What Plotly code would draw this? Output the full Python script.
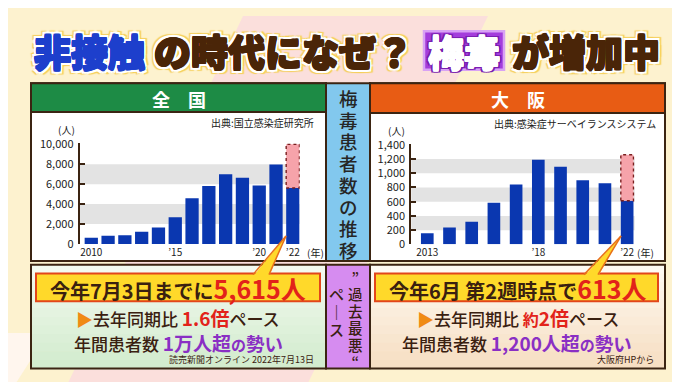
import plotly.graph_objects as go

W, H = 680, 382
FONT = "Noto Sans CJK JP"
BROWN = "#3b2412"

# ---------------- data ----------------
years_nat = [2010, 2011, 2012, 2013, 2014, 2015, 2016, 2017, 2018, 2019, 2020, 2021, 2022]
cases_nat = [621, 827, 875, 1228, 1661, 2690, 4575, 5826, 7007, 6642, 5867, 7978, 5615]
proj_nat_2022 = 10000
xtick_nat = [2010, 2015, 2020, 2022]
xtext_nat = ["2010", "’15", "’20", "’22"]
ytick_nat = [0, 2000, 4000, 6000, 8000, 10000]
bands_nat = [(2000, 4000), (6000, 8000)]

years_osk = [2013, 2014, 2015, 2016, 2017, 2018, 2019, 2020, 2021, 2022]
cases_osk = [157, 237, 318, 586, 841, 1190, 1091, 903, 859, 613]
proj_osk_2022 = 1260
xtick_osk = [2013, 2018, 2022]
xtext_osk = ["2013", "’18", "’22"]
ytick_osk = [0, 200, 400, 600, 800, 1000, 1200, 1400]
bands_osk = [(200, 400), (600, 800), (1000, 1200)]

BAR_W_NAT = 0.79
BAR_W_OSK = 0.57


def px(x):
    return x / W


def py(y):
    return 1 - y / H


def P(x, y):
    return f"{px(x):.5f},{py(y):.5f}"


fig = go.Figure()

# national bars
fig.add_trace(go.Bar(x=years_nat, y=cases_nat, width=BAR_W_NAT, marker=dict(color="#0a37b0", line=dict(width=0)),
                     xaxis="x", yaxis="y", showlegend=False, hoverinfo="skip"))
fig.add_trace(go.Bar(x=[years_nat[-1]], y=[proj_nat_2022 - cases_nat[-1]], base=[cases_nat[-1]], width=BAR_W_NAT,
                     marker=dict(color="#f6a3aa", line=dict(width=0)), xaxis="x", yaxis="y",
                     showlegend=False, hoverinfo="skip"))
# osaka bars
fig.add_trace(go.Bar(x=years_osk, y=cases_osk, width=BAR_W_OSK, marker=dict(color="#0a37b0", line=dict(width=0)),
                     xaxis="x2", yaxis="y2", showlegend=False, hoverinfo="skip"))
fig.add_trace(go.Bar(x=[years_osk[-1]], y=[proj_osk_2022 - cases_osk[-1]], base=[cases_osk[-1]], width=BAR_W_OSK,
                     marker=dict(color="#f6a3aa", line=dict(width=0)), xaxis="x2", yaxis="y2",
                     showlegend=False, hoverinfo="skip"))

shapes = []


def rect(x0, y0, x1, y1, fill, line=BROWN, lw=2, layer="below"):
    shapes.append(dict(type="rect", xref="paper", yref="paper", x0=px(x0), x1=px(x1), y0=py(y1), y1=py(y0),
                       fillcolor=fill, line=dict(color=line, width=lw), layer=layer))


def grad(x0, y0, x1, y1, c0, c1, n=12):
    def hx(c):
        return [int(c[i:i + 2], 16) for i in (1, 3, 5)]
    a, b = hx(c0), hx(c1)
    for i in range(n):
        t = i / (n - 1)
        c = "#%02x%02x%02x" % tuple(int(a[k] + (b[k] - a[k]) * t) for k in range(3))
        ya = y0 + (y1 - y0) * i / n
        yb = y0 + (y1 - y0) * (i + 1) / n + 0.6
        shapes.append(dict(type="rect", xref="paper", yref="paper", x0=px(x0), x1=px(x1), y0=py(yb), y1=py(ya),
                           fillcolor=c, line=dict(width=0), layer="below"))


# background diagonal pink band
shapes.append(dict(type="path", xref="paper", yref="paper",
                   path=f"M {P(235,0)} L {P(480,0)} L {P(300,382)} L {P(60,382)} Z",
                   fillcolor="#fbdfdc", line=dict(width=0), layer="below"))
shapes.append(dict(type="path", xref="paper", yref="paper",
                   path=f"M {P(0,330)} L {P(40,330)} L {P(8,382)} L {P(0,382)} Z",
                   fillcolor="#fff6ee", line=dict(width=0), layer="below"))

# title purple box
rect(416, 16, 496, 56, "#a43ddc", line="#d8a2f4", lw=2.5)

# chart panels
rect(23, 70, 318, 255, "#ffffff")
rect(23, 70, 318, 100, "#1d8b45")
rect(318, 70, 362, 255, "#82c8ee")
rect(362, 70, 657, 255, "#ffffff")
rect(362, 70, 657, 101, "#e85c14")

# bottom panels
grad(23, 259, 318, 367, "#f3faef", "#d3ecce")
rect(23, 259, 318, 367, "rgba(0,0,0,0)")
rect(318, 259, 362, 367, "#d68cf0")
grad(362, 259, 657, 367, "#fefaf2", "#f7dfc3")
rect(362, 259, 657, 367, "rgba(0,0,0,0)")

# yellow highlight boxes
rect(28, 268, 312, 297, "#ffd92a", line="#e2461a", lw=2, layer="above")
rect(367, 268, 650, 297, "#ffd92a", line="#e2461a", lw=2, layer="above")

# callout pointers
for tip, b0, b1 in [((278, 229), (245, 271), (261, 271)), ((613, 229), (576, 271), (590, 271))]:
    shapes.append(dict(type="path", xref="paper", yref="paper",
                       path=f"M {P(*b0)} L {P(*tip)} L {P(*b1)} Z",
                       fillcolor="#ffd92a", line=dict(width=0), layer="above"))
    for b in (b0, b1):
        shapes.append(dict(type="line", xref="paper", yref="paper", x0=px(b[0]), y0=py(b[1] - 1.8),
                           x1=px(tip[0]), y1=py(tip[1]), line=dict(color="#e8701a", width=1.5), layer="above"))

# gray bands
for (a, b) in bands_nat:
    shapes.append(dict(type="rect", xref="x domain", yref="y", x0=0, x1=1, y0=a, y1=b,
                       fillcolor="#e3e3e3", line=dict(width=0), layer="below"))
for (a, b) in bands_osk:
    shapes.append(dict(type="rect", xref="x2 domain", yref="y2", x0=0, x1=1, y0=a, y1=b,
                       fillcolor="#e3e3e3", line=dict(width=0), layer="below"))

# dashed outlines around projections
shapes.append(dict(type="rect", xref="x", yref="y", x0=years_nat[-1] - BAR_W_NAT / 2, x1=years_nat[-1] + BAR_W_NAT / 2,
                   y0=cases_nat[-1], y1=proj_nat_2022, line=dict(color="#7a1f1f", width=1.4, dash="dot"),
                   fillcolor="rgba(0,0,0,0)", layer="above"))
shapes.append(dict(type="rect", xref="x2", yref="y2", x0=years_osk[-1] - BAR_W_OSK / 2, x1=years_osk[-1] + BAR_W_OSK / 2,
                   y0=cases_osk[-1], y1=proj_osk_2022, line=dict(color="#7a1f1f", width=1.4, dash="dot"),
                   fillcolor="rgba(0,0,0,0)", layer="above"))

ann = []


def text(x, y, t, size, color=BROWN, anchor="center", weight="bold", shadow=None, angle=0):
    f = dict(family=FONT, size=size, color=color, weight=weight)
    if shadow:
        f["shadow"] = shadow
    ann.append(dict(xref="paper", yref="paper", x=px(x), y=py(y), text=t, showarrow=False, xanchor=anchor,
                    yanchor="middle", font=f, textangle=angle, borderpad=0))


def vertical(x, y, chars, pitch, glyph_size, color, weight=500):
    # one annotation, line pitch set by base font size (1.3em), glyphs enlarged via span
    base = pitch / 1.3
    t = "<br>".join("<span style='font-size:%.1fpx'>%s</span>" % (glyph_size, c) for c in chars)
    text(x, y, t, base, color, weight=weight)


def outline(inner, w_in, outer, w_out, glow=None):
    s = []
    for dx, dy in [(1, 0), (-1, 0), (0, 1), (0, -1), (1, 1), (-1, -1), (1, -1), (-1, 1)]:
        s.append(f"{dx * w_in}px {dy * w_in}px 0 {inner}")
    for dx, dy in [(1, 0), (-1, 0), (0, 1), (0, -1), (1, 1), (-1, -1), (1, -1), (-1, 1)]:
        s.append(f"{dx * w_out}px {dy * w_out}px 0 {outer}")
    if glow:
        for dx, dy in [(1, 1), (-1, 1), (1, -1), (-1, -1)]:
            s.append(f"{dx * (w_out + 1.5)}px {dy * (w_out + 1.5)}px 1px {glow}")
    return ", ".join(s)


# title
BLUE_T = "#1d3fcc"
BR_T = "#4a2508"
text(81, 36, "非接触", 37, BLUE_T, weight=900, shadow=outline(BLUE_T, 0.8, "#ffffff", 2.6, "#f5cf5a"))
text(275, 36, "の時代になぜ？", 37, BR_T, weight=900, shadow=outline(BR_T, 0.8, "#ffffff", 2.6, "#f5cf5a"))
text(456, 36, "梅毒", 36, "#ffffff", weight=900, shadow=outline("#ffffff", 0.6, "#7a1fb0", 2.2))
text(578, 36, "が増加中", 37, BR_T, weight=900, shadow=outline(BR_T, 0.8, "#ffffff", 2.6, "#f5cf5a"))

# headers
text(171, 86, "全　国", 18, "#ffffff")
text(510, 86, "大　阪", 18, "#ffffff")
text(307, 111, "出典:国立感染症研究所", 10, "#222222", anchor="right", weight="normal")
text(649, 112, "出典:感染症サーベイランスシステム", 10, "#222222", anchor="right", weight="normal")
text(58, 118, "(人)", 10, "#222222", weight="normal")
text(388, 119, "(人)", 10, "#222222", weight="normal")
text(307, 246, "(年)", 10, "#222222", weight="normal")
text(637, 246, "(年)", 10, "#222222", weight="normal")

# middle vertical caption
vertical(340, 164, "梅毒患者数の推移", 21.7, 18.5, "#262626")

# purple vertical text
vertical(347, 315, ["”", "過", "去", "最", "悪", "“"], 17, 14.5, "#3a2010")
vertical(328, 308, ["ペ", "｜", "ス"], 18, 15, "#3a2010")

RED = "#e2231a"
PUR = "#8a2fc4"
ORG = "#f08a14"
# bottom left
text(170, 283, "今年7月3日までに<span style='color:%s;font-size:25px'>5,615人</span>" % RED, 20, "#3a2010")
text(170, 314, "<span style='color:%s'>▶</span>去年同期比 <span style='color:%s;font-size:19px'><b>1.6倍</b></span>ペース"
     % (ORG, RED), 17, "#3a2010", weight=500)
text(170, 340, "年間患者数 <span style='color:%s;font-size:19px'><b>1万人超</b></span>"
     "<span style='color:%s;font-size:15px'><b>の</b></span><span style='color:%s;font-size:18.5px'><b>勢い</b></span>"
     % (PUR, PUR, PUR), 17, "#3a2010", weight=500)
text(307, 358, "読売新聞オンライン 2022年7月13日", 9, "#3a2010", anchor="right", weight="normal")

# bottom right
text(509, 283, "今年6月 第2週時点で<span style='color:%s;font-size:25px'>613人</span>" % RED, 20, "#3a2010")
text(510, 314, "<span style='color:%s'>▶</span>去年同期比 <span style='color:%s;font-size:16px'><b>約</b></span>"
     "<span style='color:%s;font-size:19px'><b>2倍</b></span>ペース" % (ORG, RED, RED), 17, "#3a2010", weight=500)
text(509, 340, "年間患者数 <span style='color:%s;font-size:19px'><b>1,200人超</b></span>"
     "<span style='color:%s;font-size:15px'><b>の</b></span><span style='color:%s;font-size:18.5px'><b>勢い</b></span>"
     % (PUR, PUR, PUR), 17, "#3a2010", weight=500)
text(647, 358, "大阪府HPから", 9, "#3a2010", anchor="right", weight="normal")

axis_common = dict(showgrid=False, zeroline=False, fixedrange=True)
fig.update_layout(
    width=W, height=H, margin=dict(l=0, r=0, t=0, b=0),
    paper_bgcolor="#fdf2cf", plot_bgcolor="rgba(0,0,0,0)",
    font=dict(family=FONT, color="#222222"),
    barmode="overlay", showlegend=False,
    xaxis=dict(domain=[px(71.7), px(291.7)], range=[2009.31, 2022.41], tickvals=xtick_nat, ticktext=xtext_nat,
               showline=False, ticks="", tickfont=dict(size=10, color="#222222"), anchor="y",
               ticklabelstandoff=1, **axis_common),
    yaxis=dict(domain=[py(237.3), py(132.7)], range=[0, 10080], tickvals=ytick_nat, tickformat=",d",
               showline=True, linecolor=BROWN, linewidth=2, ticks="inside", ticklen=5, tickwidth=2,
               tickcolor=BROWN, tickfont=dict(size=11, color="#222222"), anchor="x", ticklabelstandoff=2,
               **axis_common),
    xaxis2=dict(domain=[px(403.3), px(626.7)], range=[2012.28, 2022.34], tickvals=xtick_osk, ticktext=xtext_osk,
                showline=False, ticks="", tickfont=dict(size=10, color="#222222"), anchor="y2",
                ticklabelstandoff=1, **axis_common),
    yaxis2=dict(domain=[py(237.7), py(133.3)], range=[0, 1411], tickvals=ytick_osk, tickformat=",d",
                showline=True, linecolor=BROWN, linewidth=2, ticks="inside", ticklen=5, tickwidth=2,
                tickcolor=BROWN, tickfont=dict(size=11, color="#222222"), anchor="x2", ticklabelstandoff=2,
                **axis_common),
    shapes=shapes, annotations=ann,
)

fig.write_html("out.html", config=dict(displayModeBar=False))
